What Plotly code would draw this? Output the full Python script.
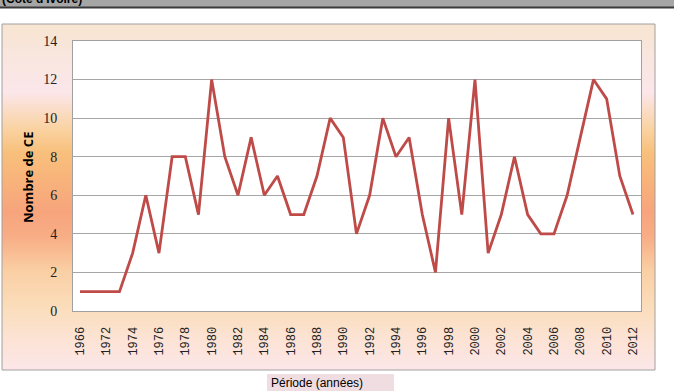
import base64
import plotly.graph_objects as go

# ---- data ----
years = ["1966", "1970"] + [str(y) for y in range(1972, 2013)]
counts = [1, 1, 1, 1, 3, 6, 3, 8, 8, 5, 12, 8, 6, 9, 6, 7, 5, 5, 7, 10, 9, 4, 6, 10,
          8, 9, 5, 2, 10, 5, 12, 3, 5, 8, 5, 4, 4, 6, 9, 12, 11, 7, 5]
tick_years = years[::2]
y_ticks = [0, 2, 4, 6, 8, 10, 12, 14]

W, H = 674, 391
L, R, T, B = 73, 641, 41, 311  # plot area in px
pw, ph = R - L, B - T


def px(x):
    return (x - L) / pw


def py(y):
    return (B - y) / ph


# gradient background for chart box (x 2..655, y 24..370)
bx0, bx1, by0, by1 = 2, 655, 24, 370
stops = [(24, "#F7E4D0"), (55, "#F9E6DE"), (92, "#FBE6EA"), (130, "#FAD2A0"),
         (152, "#F8C07C"), (178, "#F8B47B"), (212, "#F7A47C"), (238, "#F8AE86"),
         (272, "#FAD0A5"), (310, "#FBDEBD"), (340, "#FCE3D5"), (370, "#FCE7E9")]
stop_xml = "".join(
    f'<stop offset="{(y - by0) / (by1 - by0):.3f}" stop-color="{c}"/>' for y, c in stops)
bw, bh = bx1 - bx0, by1 - by0
svg = (f'<svg xmlns="http://www.w3.org/2000/svg" width="{bw}" height="{bh}" '
       f'viewBox="0 0 {bw} {bh}" preserveAspectRatio="none">'
       f'<defs><linearGradient id="g" x1="0" y1="0" x2="0" y2="1">{stop_xml}</linearGradient></defs>'
       f'<rect x="0" y="0" width="{bw}" height="{bh}" fill="url(#g)"/></svg>')
src = "data:image/svg+xml;base64," + base64.b64encode(svg.encode()).decode()

fig = go.Figure()
fig.add_trace(go.Scatter(x=years, y=counts, mode="lines",
                         line=dict(color="#BE4B48", width=2.8), hoverinfo="x+y"))

fig.update_layout(
    width=W, height=H,
    margin=dict(l=L, r=W - R, t=T, b=H - B, pad=0),
    paper_bgcolor="white", plot_bgcolor="white",
    showlegend=False,
    images=[dict(source=src, xref="paper", yref="paper",
                 x=px(bx0), y=py(by0), sizex=(bx1 - bx0) / pw, sizey=(by1 - by0) / ph,
                 xanchor="left", yanchor="top", sizing="stretch", layer="below")],
    shapes=[
        # white plot area over gradient
        dict(type="rect", xref="paper", yref="paper", x0=0, x1=1, y0=0, y1=1,
             fillcolor="white", line=dict(width=0), layer="below"),
        # chart box border
        dict(type="rect", xref="paper", yref="paper", x0=px(bx0), x1=px(bx1),
             y0=py(by1), y1=py(by0), line=dict(color="#A0A0A0", width=1), layer="above"),
        # header bar
        dict(type="rect", xref="paper", yref="paper", x0=px(-2), x1=px(W + 2),
             y0=py(7), y1=py(-2), fillcolor="#A6A6A6", line=dict(width=0)),
        dict(type="line", xref="paper", yref="paper", x0=px(-2), x1=px(W + 2),
             y0=py(7.5), y1=py(7.5), line=dict(color="#3A3A3A", width=2)),
        # x title box
        dict(type="rect", xref="paper", yref="paper", x0=px(267), x1=px(394),
             y0=py(392), y1=py(374), fillcolor="#EFDDE2", line=dict(width=0)),
    ],
    annotations=[
        dict(text="Nombre de CE", xref="paper", yref="paper", x=px(28), y=py(178),
             textangle=-90, showarrow=False, xanchor="center", yanchor="middle",
             font=dict(family="Open Sans", size=13, color="#000000", weight="bold")),
        dict(text="Période (années)", xref="paper", yref="paper", x=px(269), y=py(382.5),
             showarrow=False, xanchor="left", yanchor="middle",
             font=dict(family="Liberation Sans", size=12, color="#000000")),
        dict(text="(Côte d'Ivoire)", xref="paper", yref="paper", x=px(0), y=py(-1),
             showarrow=False, xanchor="left", yanchor="middle",
             font=dict(family="Liberation Sans", size=12, color="#000000", weight="bold")),
    ],
)

fig.update_xaxes(type="category", categoryorder="array", categoryarray=years,
                 range=[-0.53, len(years) - 1 + 0.61],
                 tickmode="array", tickvals=tick_years, ticktext=tick_years,
                 tickangle=-90, ticks="", ticklabelstandoff=10,
                 tickfont=dict(family="Liberation Mono", size=12, color="#222222"),
                 showgrid=False, showline=True, linecolor="#A0A0A0", linewidth=1,
                 mirror=True, zeroline=False)
fig.update_yaxes(range=[0, 14], tickmode="array", tickvals=y_ticks,
                 ticks="", ticklabelstandoff=12,
                 tickfont=dict(family="Liberation Serif", size=14, color="#222222"),
                 showgrid=True, gridcolor="#A6A6A6", gridwidth=1,
                 showline=True, linecolor="#A0A0A0", linewidth=1, mirror=True,
                 zeroline=False)

fig.write_html("out.html")
